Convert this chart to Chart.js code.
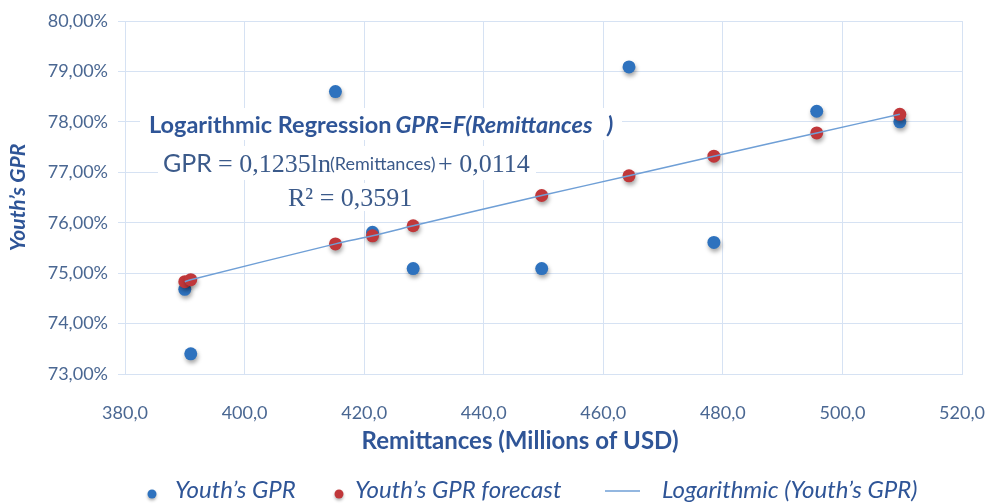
<!DOCTYPE html>
<html>
<head>
<meta charset="utf-8">
<script src="https://cdn.jsdelivr.net/npm/chart.js@4.4.1/dist/chart.umd.min.js"></script>
<style>
html,body{margin:0;padding:0;background:#ffffff;}
#wrap{width:986px;height:504px;position:relative;}
</style>
</head>
<body>
<div id="wrap"><canvas id="c" width="986" height="504"></canvas></div>
<script>
// ---- data ----
const remittances = [390.0, 391.0, 415.2, 421.4, 428.2, 449.7, 464.3, 478.5, 495.7, 509.6];
const youthGPR = [74.68, 73.40, 78.60, 75.81, 75.09, 75.09, 79.09, 75.61, 78.21, 78.00];
const youthGPRForecast = [74.83, 74.87, 75.58, 75.74, 75.94, 76.54, 76.93, 77.32, 77.78, 78.15];
const seriesLabels = ["Youth\u2019s GPR", "Youth\u2019s GPR forecast", "Logarithmic (Youth\u2019s GPR)"];
const xTicks = [380, 400, 420, 440, 460, 480, 500, 520];
const yTicks = [73, 74, 75, 76, 77, 78, 79, 80];
const xTitle = "Remittances (Millions of USD)";
const yTitle = "Youth\u2019s GPR";
const annotTitle = "Logarithmic Regression";
const annotTitleItalic = "GPR=F(Remittances";
const eqLeft = "GPR";
const eqMid = "= 0,1235ln";
const eqArg = "(Remittances)";
const eqRight = "+ 0,0114";
const eqR2 = "R\u00B2 = 0,3591";

// ---- styles ----
const blue = '#2E72BE';
const red = '#C0373A';
const trendColor = '#6F9FD6';
const tickColor = '#4A6792';
const titleColor = '#2F5597';
const eqColor = '#3B5A8A';
const gridColor = '#D6E2F3';

const toPts = (xs, ys) => xs.map((x, i) => ({x: x, y: ys[i]}));
const trendPts = toPts(remittances, youthGPRForecast).sort((a, b) => a.x - b.x);

const shadowPlugin = {
  id: 'pointShadow',
  beforeDatasetDraw(chart, args) {
    const ds = chart.data.datasets[args.index];
    if (ds.showLine) return;
    const ctx = chart.ctx;
    ctx.save();
    ctx.shadowColor = 'rgba(0,0,0,0.35)';
    ctx.shadowBlur = 4;
    ctx.shadowOffsetX = 1;
    ctx.shadowOffsetY = 3;
  },
  afterDatasetDraw(chart, args) {
    const ds = chart.data.datasets[args.index];
    if (ds.showLine) return;
    chart.ctx.restore();
  }
};

const annotPlugin = {
  id: 'annot',
  beforeDatasetsDraw(chart) {
    const ctx = chart.ctx;
    ctx.save();
    ctx.fillStyle = '#ffffff';
    ctx.fillRect(140, 108, 482, 32);
    ctx.fillRect(158, 146, 378, 34);
    ctx.fillRect(283, 183, 130, 28);
    ctx.textAlign = 'left';
    ctx.textBaseline = 'alphabetic';
    ctx.fillStyle = titleColor;
    ctx.font = 'bold 23.5px Lato';
    ctx.fillText(annotTitle, 149, 133);
    const w1 = ctx.measureText(annotTitle).width;
    ctx.font = 'italic bold 23.5px Lato';
    ctx.fillText(annotTitleItalic, 149 + w1 + 4, 133);
    ctx.fillText(')', 607, 133);
    ctx.fillStyle = eqColor;
    ctx.font = '25px Lato';
    ctx.fillText(eqLeft, 163, 172);
    ctx.font = '26px "Liberation Serif"';
    ctx.fillText(eqMid, 218, 172);
    ctx.font = '18px Lato';
    ctx.fillText(eqArg, 330, 170);
    ctx.font = '26px "Liberation Serif"';
    ctx.fillText(eqRight, 438, 172);
    ctx.fillText(eqR2, 288, 206);
    ctx.restore();
  },
  afterDraw(chart) {
    const ctx = chart.ctx;
    ctx.save();
    // x axis title
    ctx.fillStyle = titleColor;
    ctx.font = 'bold 24px Lato';
    ctx.textAlign = 'center';
    ctx.textBaseline = 'middle';
    ctx.fillText(xTitle, 520, 441);
    // legend
    ctx.textAlign = 'left';
    ctx.font = 'italic 24px Lato';
    const dot = (x, y, c) => {
      ctx.save();
      ctx.shadowColor = 'rgba(0,0,0,0.3)';
      ctx.shadowBlur = 3; ctx.shadowOffsetY = 2;
      ctx.fillStyle = c;
      ctx.beginPath(); ctx.arc(x, y, 4.5, 0, Math.PI * 2); ctx.fill();
      ctx.restore();
    };
    dot(152, 494, blue);
    ctx.fillText(seriesLabels[0], 175, 490);
    dot(339, 494, red);
    ctx.fillText(seriesLabels[1], 355, 490);
    ctx.strokeStyle = trendColor; ctx.lineWidth = 1.5;
    ctx.beginPath(); ctx.moveTo(605, 491); ctx.lineTo(640, 491); ctx.stroke();
    ctx.fillStyle = titleColor;
    ctx.fillText(seriesLabels[2], 662, 490);
    ctx.restore();
  }
};

function build() {
  new Chart(document.getElementById('c'), {
    type: 'scatter',
    data: {
      datasets: [
        {label: seriesLabels[0], data: toPts(remittances, youthGPR), backgroundColor: blue, borderColor: blue,
         pointRadius: 6.5, pointHoverRadius: 6.5, borderWidth: 0, order: 2},
        {label: seriesLabels[1], data: toPts(remittances, youthGPRForecast), backgroundColor: red, borderColor: red,
         pointRadius: 6.5, pointHoverRadius: 6.5, borderWidth: 0, order: 1},
        {label: seriesLabels[2], data: trendPts, showLine: true, borderColor: trendColor, borderWidth: 1.5,
         pointRadius: 0, pointHoverRadius: 0, fill: false, tension: 0.3, order: 0}
      ]
    },
    options: {
      responsive: false,
      devicePixelRatio: 1,
      animation: false,
      layout: {padding: {top: 21, right: 0, left: 0, bottom: 0}},
      plugins: {legend: {display: false}, tooltip: {enabled: false}},
      scales: {
        x: {
          type: 'linear', min: 380, max: 520,
          afterBuildTicks: s => { s.ticks = xTicks.map(v => ({value: v})); },
          afterFit: s => { s.height = 130; s.paddingRight = 24; },
          grid: {color: gridColor, lineWidth: 1, drawTicks: false},
          border: {color: gridColor},
          ticks: {color: tickColor, font: {family: 'Lato', size: 18}, padding: 28,
                  callback: v => v.toFixed(1).replace('.', ',')}
        },
        y: {
          type: 'linear', min: 73, max: 80,
          afterBuildTicks: s => { s.ticks = yTicks.map(v => ({value: v})); },
          afterFit: s => { s.width = 125; },
          grid: {color: gridColor, lineWidth: 1, tickLength: 7},
          border: {color: gridColor},
          title: {display: true, text: yTitle, color: titleColor,
                  font: {family: 'Lato', size: 21, weight: 'bold', style: 'italic'}, padding: {top: 6, bottom: 0}},
          ticks: {color: tickColor, font: {family: 'Lato', size: 18}, padding: 10,
                  callback: v => v.toFixed(2).replace('.', ',') + '%'}
        }
      }
    },
    plugins: [shadowPlugin, annotPlugin]
  });
}
if (document.fonts && document.fonts.load) {
  Promise.all([
    document.fonts.load('18px Lato'), document.fonts.load('bold 24px Lato'),
    document.fonts.load('italic 24px Lato'), document.fonts.load('italic bold 24px Lato'),
    document.fonts.load('26px "Liberation Serif"')
  ]).then(build, build);
} else { build(); }
</script>
</body>
</html>
